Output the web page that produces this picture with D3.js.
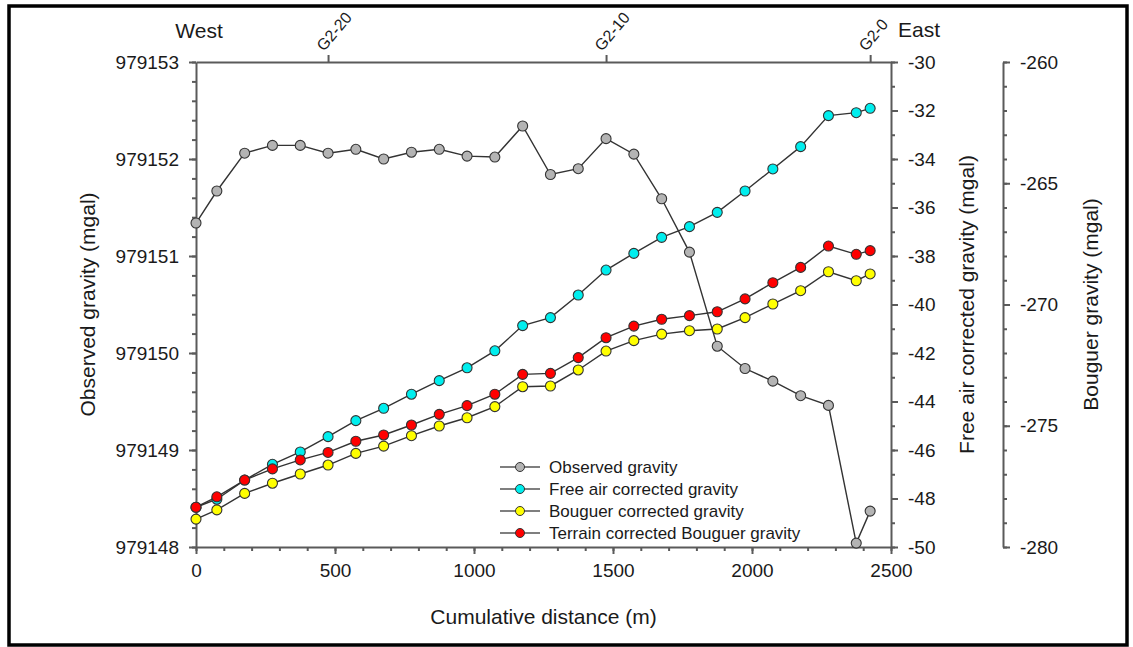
<!DOCTYPE html>
<html>
<head>
<meta charset="utf-8">
<title>Gravity profile G2</title>
<style>
  body { margin: 0; background: #fff; }
  svg text { font-family: "Liberation Sans", Arial, sans-serif; fill: #1a1a1a; }
  .axis path, .axis line { stroke: #5a5a5a; stroke-width: 2; }
  .axis text { font-size: 19px; fill: #1a1a1a; font-family: "Liberation Sans", Arial, sans-serif; }
</style>
</head>
<body>
<script src="https://d3js.org/d3.v7.min.js"></script>
<script>
// data
let distance = [0, 75, 175, 275, 375, 475, 575, 675, 775, 875, 975, 1075, 1175, 1275,
  1375, 1475, 1575, 1675, 1775, 1875, 1975, 2075, 2175, 2275, 2375, 2425];
let observed = [979151.34, 979151.67, 979152.06, 979152.14, 979152.14, 979152.06, 979152.10,
  979152.00, 979152.07, 979152.10, 979152.03, 979152.02, 979152.34, 979151.84, 979151.90,
  979152.21, 979152.05, 979151.59, 979151.04, 979150.07, 979149.84, 979149.71, 979149.56,
  979149.46, 979148.04, 979148.37];
let freeAir = [-48.36, -48.03, -47.24, -46.59, -46.08, -45.45, -44.79, -44.28, -43.70, -43.14,
  -42.61, -41.91, -40.87, -40.54, -39.61, -38.58, -37.89, -37.23, -36.79, -36.20, -35.32,
  -34.41, -33.49, -32.21, -32.09, -31.91];
let bouguer = [-278.85, -278.47, -277.79, -277.37, -276.99, -276.62, -276.14, -275.84, -275.41,
  -275.01, -274.67, -274.21, -273.39, -273.36, -272.70, -271.92, -271.49, -271.22, -271.08,
  -271.01, -270.54, -269.98, -269.43, -268.65, -269.02, -268.74];
let terrain = [-278.36, -277.93, -277.24, -276.78, -276.41, -276.10, -275.64, -275.38, -274.97,
  -274.53, -274.17, -273.70, -272.88, -272.84, -272.19, -271.37, -270.89, -270.61, -270.46,
  -270.30, -269.77, -269.10, -268.47, -267.59, -267.93, -267.78];

let stationTicks = [475, 1475, 2425];
let stationLabels = ["G2-20", "G2-10", "G2-0"];
let seriesNames = ["Observed gravity", "Free air corrected gravity",
  "Bouguer corrected gravity", "Terrain corrected Bouguer gravity"];
let xTicks = [0, 500, 1000, 1500, 2000, 2500];
let obsTicks = [979148, 979149, 979150, 979151, 979152, 979153];
let faTicks = [-50, -48, -46, -44, -42, -40, -38, -36, -34, -32, -30];
let bgTicks = [-280, -275, -270, -265, -260];

let width = 1133, height = 647;
let pLeft = 196, pRight = 891, pTop = 62, pBottom = 547;

let svg = d3.select("body").append("svg")
  .attr("width", width)
  .attr("height", height);

// outer frame
svg.append("rect")
  .attr("x", 9).attr("y", 6)
  .attr("width", 1118).attr("height", 639)
  .attr("fill", "none")
  .attr("stroke", "#000")
  .attr("stroke-width", 3.5);

let x = d3.scaleLinear().domain([0, 2500]).range([pLeft, pRight]);
let yObs = d3.scaleLinear().domain([979148, 979153]).range([pBottom, pTop]);
let yFa = d3.scaleLinear().domain([-50, -30]).range([pBottom, pTop]);
let yBg = d3.scaleLinear().domain([-280, -260]).range([pBottom, pTop]);

let plain = d => String(d); // plain hyphen, no thousands separator

// minor ticks first, then major axes
function minor(axis, scale, step, tx, ty) {
  let [a, b] = scale.domain();
  let vals = d3.range(a, b + step / 2, step);
  svg.append("g").attr("class", "axis")
    .attr("transform", `translate(${tx},${ty})`)
    .call(axis(scale).tickValues(vals).tickSize(4).tickFormat(""))
    .call(g => g.select(".domain").remove());
}
minor(d3.axisBottom, x, 100, 0, pBottom);
minor(d3.axisLeft, yObs, 0.2, pLeft, 0);
minor(d3.axisRight, yFa, 1, pRight, 0);
minor(d3.axisRight, yBg, 1, 1003, 0);

svg.append("g").attr("class", "axis")
  .attr("transform", `translate(0,${pBottom})`)
  .call(d3.axisBottom(x).tickValues(xTicks).tickFormat(plain).tickSize(7).tickSizeOuter(0).tickPadding(10));

svg.append("g").attr("class", "axis")
  .attr("transform", `translate(${pLeft},0)`)
  .call(d3.axisLeft(yObs).tickValues(obsTicks).tickFormat(plain).tickSize(7).tickSizeOuter(0).tickPadding(10));

svg.append("g").attr("class", "axis")
  .attr("transform", `translate(${pRight},0)`)
  .call(d3.axisRight(yFa).tickValues(faTicks).tickFormat(plain).tickSize(7).tickSizeOuter(0).tickPadding(10));

svg.append("g").attr("class", "axis")
  .attr("transform", "translate(1003,0)")
  .call(d3.axisRight(yBg).tickValues(bgTicks).tickFormat(plain).tickSize(7).tickSizeOuter(0).tickPadding(10));

// top axis with station names
svg.append("g").attr("class", "axis")
  .attr("transform", `translate(0,${pTop})`)
  .call(d3.axisTop(x).tickValues(stationTicks).tickSize(7).tickSizeOuter(0).tickFormat(""));

svg.selectAll(".station")
  .data(stationTicks)
  .join("text")
  .attr("class", "station")
  .attr("transform", d => `translate(${x(d) - 4},${pTop - 10}) rotate(-50)`)
  .style("font-size", "16px")
  .text((d, i) => stationLabels[i]);

svg.append("text").attr("x", 199).attr("y", 38)
  .attr("text-anchor", "middle").style("font-size", "21px").text("West");
svg.append("text").attr("x", 898).attr("y", 37)
  .style("font-size", "21px").text("East");

// axis titles
svg.append("text")
  .attr("x", (pLeft + pRight) / 2).attr("y", 624)
  .attr("text-anchor", "middle").style("font-size", "21px")
  .text("Cumulative distance (m)");

function vtitle(tx, label) {
  svg.append("text")
    .attr("transform", `translate(${tx},${(pTop + pBottom) / 2}) rotate(-90)`)
    .attr("text-anchor", "middle").style("font-size", "21px")
    .text(label);
}
vtitle(95, "Observed gravity (mgal)");
vtitle(974, "Free air corrected gravity (mgal)");
vtitle(1098, "Bouguer gravity (mgal)");

// series
let series = [
  { values: observed, y: yObs, color: "#b4b4b4" },
  { values: freeAir, y: yFa, color: "#00eeee" },
  { values: bouguer, y: yBg, color: "#ffff00" },
  { values: terrain, y: yBg, color: "#ff0000" }
];

series.forEach(function (s) {
  let pts = distance.map((d, i) => [x(d), s.y(s.values[i])]);
  svg.append("path")
    .datum(pts)
    .attr("d", d3.line())
    .attr("fill", "none")
    .attr("stroke", "#333")
    .attr("stroke-width", 1.4);
  svg.append("g").selectAll("circle")
    .data(pts)
    .join("circle")
    .attr("cx", d => d[0])
    .attr("cy", d => d[1])
    .attr("r", 5)
    .attr("fill", s.color)
    .attr("stroke", "#333")
    .attr("stroke-width", 1.1);
});

// legend
let legend = svg.append("g").attr("transform", "translate(500,467)");
series.forEach(function (s, i) {
  let row = legend.append("g").attr("transform", `translate(0,${i * 22})`);
  row.append("line").attr("x1", 0).attr("x2", 40)
    .attr("stroke", "#555").attr("stroke-width", 1.4);
  row.append("circle").attr("cx", 20).attr("r", 4.5)
    .attr("fill", s.color).attr("stroke", "#333").attr("stroke-width", 1);
  row.append("text").attr("x", 49).attr("dy", "0.35em")
    .style("font-size", "17px").text(seriesNames[i]);
});
</script>
</body>
</html>
